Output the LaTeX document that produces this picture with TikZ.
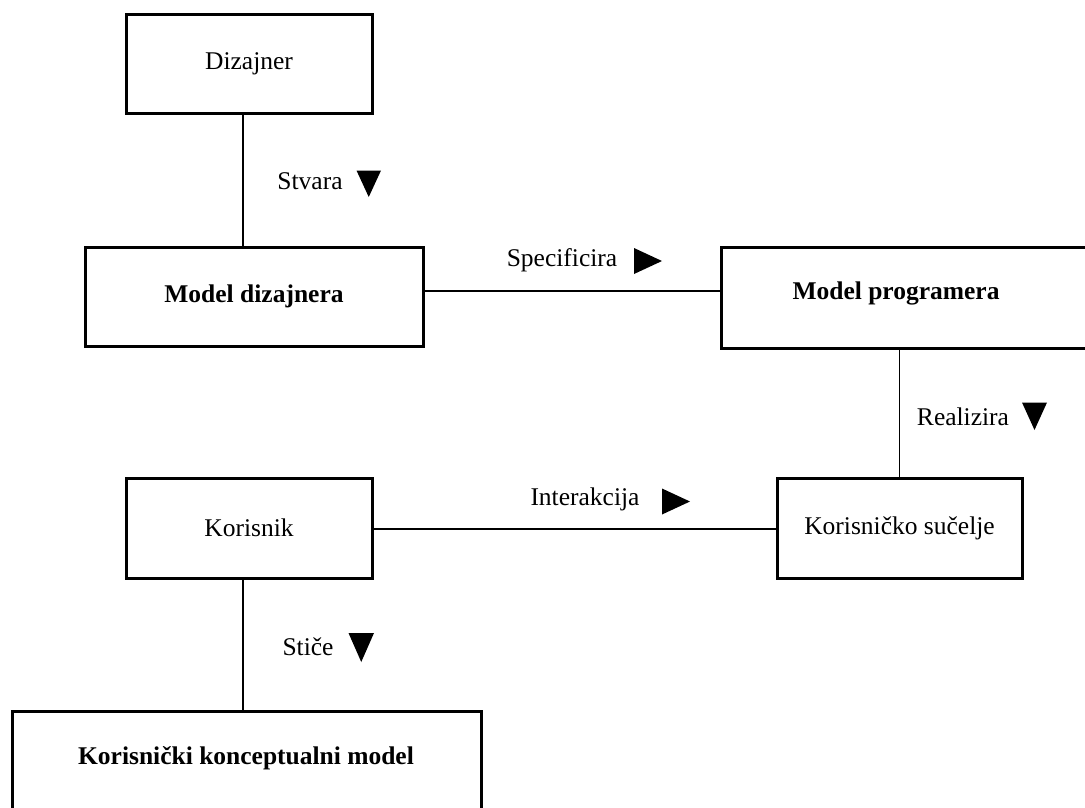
\documentclass[tikz,border=0pt]{standalone}
\usepackage{fontspec}
\setmainfont{Liberation Serif}
\begin{document}
\begin{tikzpicture}[x=1pt,y=-1pt,
  box/.style={draw=black, line width=3pt, fill=white, inner sep=0pt, font=\fontsize{25.5}{30}\selectfont},
  bbox/.style={box, font=\fontsize{25.5}{30}\selectfont\bfseries},
  lbl/.style={inner sep=0pt, font=\fontsize{25.5}{30}\selectfont},
  conn/.style={draw=black, line width=1.3pt},
  tri/.style={fill=black}
]
\useasboundingbox (0,0) rectangle (1085,807);
\clip (0,0) rectangle (1085,807);
% connectors first (behind boxes)
\coordinate (c1) at (243,113);
% boxes
\node[box, minimum width=246, minimum height=99] (diz) at (249,63.5) {Dizajner};
\node[bbox, minimum width=338, minimum height=99] (md) at (254,296.5) {Model dizajnera};
\node[draw=black, line width=3pt, minimum width=380, minimum height=101, anchor=north west, inner sep=0pt] (mp) at (720,246) {};
\node[lbl, font=\fontsize{25.5}{30}\selectfont\bfseries] (mpt) at (896,293) {Model programera};
\node[box, minimum width=245, minimum height=100] (ks) at (899.5,528) {Korisničko sučelje};
\node[box, minimum width=246, minimum height=100] (kor) at (249,528) {Korisnik};
\node[bbox, minimum width=469, minimum height=104, anchor=north] (kkm) at (246.5,710) {};
\node[lbl, font=\fontsize{25.5}{30}\selectfont\bfseries] (kkmt) at (246,758) {Korisnički konceptualni model};
% connectors
\draw[conn] (diz.south -| 243,0) -- (md.north -| 243,0);
\draw[conn] (md.east |- 0,291) -- (mp.west |- 0,291);
\draw[conn] (mp.south -| ks.north) -- (ks.north);
\draw[conn] (kor.east |- 0,529) -- (ks.west |- 0,529);
\draw[conn] (kor.south -| 243,0) -- (kkm.north -| 243,0);
% labels
\node[lbl] (l1) at (310,181) {Stvara};
\node[lbl] (l2) at (562,260) {Specificira};
\node[lbl] (l3) at (963,417) {Realizira};
\node[lbl] (l4) at (585,499) {Interakcija};
\node[lbl] (l5) at (308,647) {Stiče};
% triangles
\fill[tri] (356.5,170.5) -- (381,170.5) -- (368.75,197) -- cycle;
\fill[tri] (634,248) -- (662,261) -- (634,274) -- cycle;
\fill[tri] (1022,402.5) -- (1047,402.5) -- (1034.5,430) -- cycle;
\fill[tri] (662,488.5) -- (690,501.5) -- (662,514.5) -- cycle;
\fill[tri] (348.5,633) -- (374,633) -- (361.25,662) -- cycle;
\end{tikzpicture}
\end{document}
